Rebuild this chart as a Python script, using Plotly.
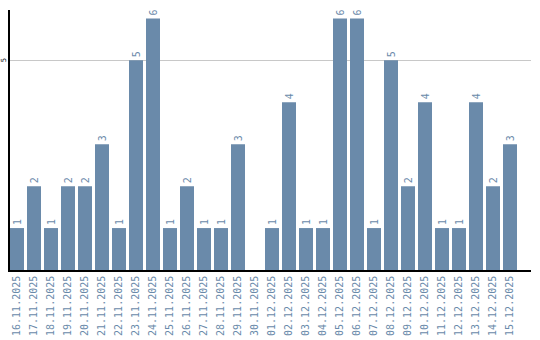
import plotly.graph_objects as go

dates = ["16.11.2025", "17.11.2025", "18.11.2025", "19.11.2025", "20.11.2025",
         "21.11.2025", "22.11.2025", "23.11.2025", "24.11.2025", "25.11.2025",
         "26.11.2025", "27.11.2025", "28.11.2025", "29.11.2025", "30.11.2025",
         "01.12.2025", "02.12.2025", "03.12.2025", "04.12.2025", "05.12.2025",
         "06.12.2025", "07.12.2025", "08.12.2025", "09.12.2025", "10.12.2025",
         "11.12.2025", "12.12.2025", "13.12.2025", "14.12.2025", "15.12.2025"]
counts = [1, 2, 1, 2, 2, 3, 1, 5, 6, 1, 2, 1, 1, 3, 0,
          1, 4, 1, 1, 6, 6, 1, 5, 2, 4, 1, 1, 4, 2, 3]
y_ticks = [5]

BAR = "#6a8aaa"
labels = [str(v) if v else "" for v in counts]

fig = go.Figure(go.Bar(
    x=dates, y=counts, text=labels, textposition="outside", textangle=-90,
    textfont=dict(family="DejaVu Sans Mono", size=10, color=BAR),
    marker=dict(color=BAR, line=dict(width=0)), cliponaxis=False,
    hoverinfo="skip",
))

for v in y_ticks:
    fig.add_annotation(
        xref="paper", x=0, yref="y", y=v, text=str(v), showarrow=False,
        textangle=-90, xanchor="right", yanchor="middle", xshift=-1,
        font=dict(family="DejaVu Sans Mono", size=7, color="black"),
        borderpad=0,
    )

fig.update_layout(
    width=540, height=340, margin=dict(l=10, r=9, t=10, b=70),
    paper_bgcolor="white", plot_bgcolor="white", bargap=3/17,
    showlegend=False,
    font=dict(family="DejaVu Sans Mono", size=10),
)
fig.update_xaxes(
    type="category", range=[-0.4118, 30.235], showgrid=False,
    showline=True, linecolor="black", linewidth=1.5,
    tickangle=-90, tickfont=dict(color=BAR, size=10), ticks="",
    automargin=False,
)
fig.update_yaxes(
    range=[0, 6.2], tickvals=y_ticks, showticklabels=False,
    showgrid=True, gridcolor="#c8c8c8",
    gridwidth=1, showline=True, linecolor="black", linewidth=1.5,
    zeroline=False, ticks="", automargin=False,
)

fig.write_html("out.html")
